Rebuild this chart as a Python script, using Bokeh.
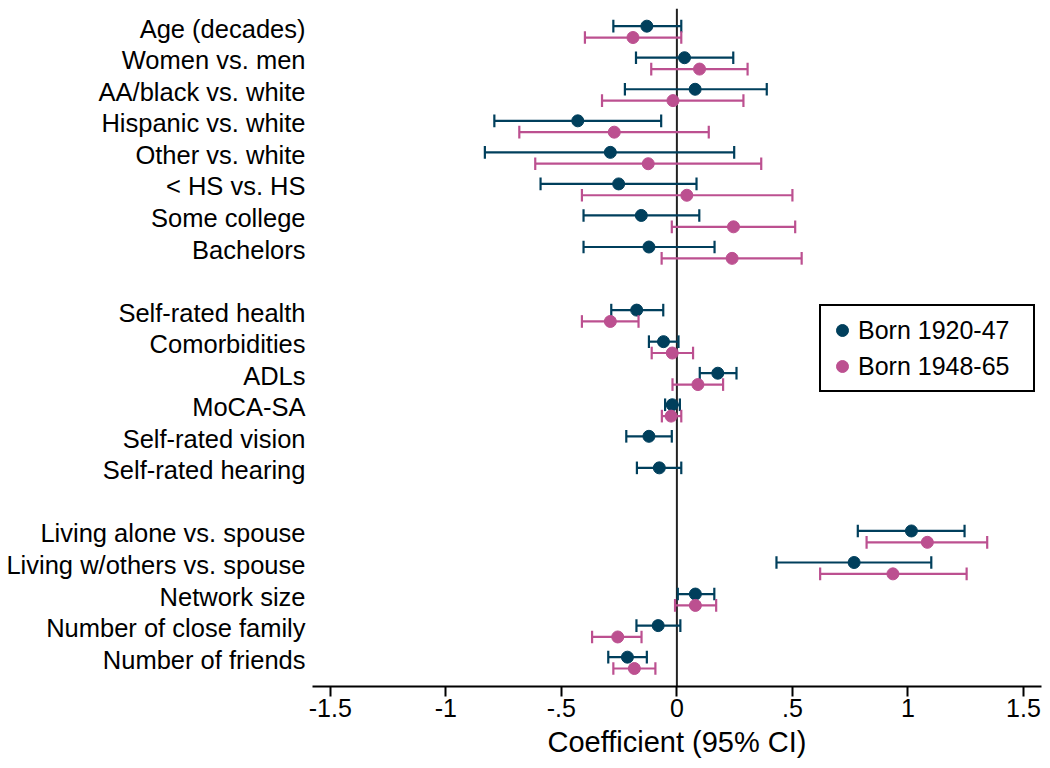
import math
from bokeh.plotting import figure
from bokeh.models import Range1d, FixedTicker, Span, Legend, LegendItem, ColumnDataSource
from bokeh.embed import file_html
from bokeh.resources import INLINE

# ---------------- data ----------------
demo_labels = ["Age (decades)", "Women vs. men", "AA/black vs. white", "Hispanic vs. white",
               "Other vs. white", "< HS vs. HS", "Some college", "Bachelors"]
health_labels = ["Self-rated health", "Comorbidities", "ADLs", "MoCA-SA",
                 "Self-rated vision", "Self-rated hearing"]
social_labels = ["Living alone vs. spouse", "Living w/others vs. spouse", "Network size",
                 "Number of close family", "Number of friends"]

series_names = ["Born 1920-47", "Born 1948-65"]
series_colors = ["#003f5c", "#bc5090"]

# Born 1920-47
old_est = [-0.130, 0.033, 0.079, -0.429, -0.288, -0.252, -0.154, -0.121,
           -0.174, -0.058, 0.177, -0.020, -0.121, -0.076,
           1.015, 0.767, 0.080, -0.081, -0.214]
old_lo = [-0.275, -0.177, -0.225, -0.790, -0.831, -0.590, -0.404, -0.404,
          -0.284, -0.121, 0.099, -0.051, -0.219, -0.173,
          0.783, 0.431, 0.004, -0.175, -0.297]
old_hi = [0.019, 0.244, 0.389, -0.068, 0.248, 0.085, 0.097, 0.163,
          -0.059, 0.007, 0.258, 0.013, -0.022, 0.019,
          1.245, 1.101, 0.162, 0.015, -0.130]

# Born 1948-65 (no estimate for vision / hearing)
nan = float("nan")
new_est = [-0.190, 0.098, -0.017, -0.271, -0.124, 0.043, 0.245, 0.239,
           -0.288, -0.020, 0.091, -0.025, nan, nan,
           1.084, 0.935, 0.080, -0.256, -0.184]
new_lo = [-0.398, -0.111, -0.324, -0.682, -0.613, -0.411, -0.022, -0.066,
          -0.411, -0.109, -0.019, -0.065, nan, nan,
          0.821, 0.620, -0.008, -0.367, -0.275]
new_hi = [0.019, 0.306, 0.288, 0.138, 0.365, 0.500, 0.512, 0.540,
          -0.166, 0.070, 0.200, 0.019, nan, nan,
          1.343, 1.254, 0.170, -0.153, -0.093]

x_ticks = [-1.5, -1, -0.5, 0, 0.5, 1, 1.5]
x_tick_labels = ["-1.5", "-1", "-.5", "0", ".5", "1", "1.5"]

# ---------------- layout of rows ----------------
labels = []
rows = []
r = 0
for grp in [demo_labels, health_labels, social_labels]:
    for lab in grp:
        labels.append(lab)
        rows.append(r)
        r += 1
    r += 1  # blank row between groups

FONT = "Liberation Sans"
offsets = [-0.18, 0.18]
cap_half = 0.2

p = figure(width=1042, height=760, output_backend="svg", toolbar_location=None,
           x_range=Range1d(-1.577, 1.578), y_range=Range1d(20.75, -0.74),
           min_border_left=312, min_border_right=1, min_border_top=8, min_border_bottom=72)
p.outline_line_color = None
p.xgrid.visible = False
p.ygrid.visible = False
p.background_fill_color = "white"
p.border_fill_color = "white"

zero = Span(location=0, dimension="height", line_color="#222222", line_width=2, level="underlay")
p.add_layout(zero)

legend_items = []
for k, (est, lo, hi) in enumerate([(old_est, old_lo, old_hi), (new_est, new_lo, new_hi)]):
    ys, es, ls, hs = [], [], [], []
    for i in range(len(labels)):
        if math.isnan(est[i]):
            continue
        ys.append(rows[i] + offsets[k])
        es.append(est[i]); ls.append(lo[i]); hs.append(hi[i])
    src = ColumnDataSource(dict(
        y=ys, est=es, lo=ls, hi=hs,
        ytop=[y - cap_half for y in ys], ybot=[y + cap_half for y in ys]))
    col = series_colors[k]
    p.segment(x0="lo", x1="hi", y0="y", y1="y", source=src, line_color=col, line_width=2.2)
    p.segment(x0="lo", x1="lo", y0="ytop", y1="ybot", source=src, line_color=col, line_width=2.2)
    p.segment(x0="hi", x1="hi", y0="ytop", y1="ybot", source=src, line_color=col, line_width=2.2)
    dots = p.scatter(x="est", y="y", source=src, size=12, fill_color=col, line_color=col)
    legend_items.append(LegendItem(label=series_names[k], renderers=[dots]))

# x axis
xa = p.xaxis[0]
xa.ticker = FixedTicker(ticks=x_ticks)
xa.major_label_overrides = {t: s for t, s in zip(x_ticks, x_tick_labels)}
xa.axis_line_color = "black"
xa.axis_line_width = 2
xa.major_tick_line_color = "black"
xa.major_tick_line_width = 2
xa.major_tick_out = 10
xa.major_tick_in = 0
xa.minor_tick_line_color = None
xa.major_label_text_font = FONT
xa.major_label_text_font_size = "25px"
xa.major_label_text_color = "black"
xa.major_label_standoff = 2
xa.axis_label = "Coefficient (95% CI)"
xa.axis_label_text_font = FONT
xa.axis_label_text_font_size = "29px"
xa.axis_label_text_font_style = "normal"
xa.axis_label_text_color = "black"
xa.axis_label_standoff = 6

# y axis
ya = p.yaxis[0]
label_pos = [rw - 0.1 for rw in rows]
ya.ticker = FixedTicker(ticks=label_pos)
ya.major_label_overrides = {t: s for t, s in zip(label_pos, labels)}
ya.axis_line_color = None
ya.major_tick_line_color = None
ya.minor_tick_line_color = None
ya.major_tick_out = 0
ya.major_tick_in = 0
ya.major_label_standoff = 7
ya.major_label_text_font = FONT
ya.major_label_text_font_size = "25.5px"
ya.major_label_text_color = "black"

legend = Legend(items=legend_items, location=(507, 294),
                border_line_color="black", border_line_width=2, border_line_alpha=1,
                background_fill_color="white", background_fill_alpha=1,
                padding=6, spacing=0, margin=0,
                label_height=36, glyph_height=36, glyph_width=30,
                label_standoff=1, label_width=169,
                label_text_font=FONT, label_text_font_size="25px",
                label_text_color="black")
p.add_layout(legend)

open("out.html", "w").write(file_html(p, INLINE))
